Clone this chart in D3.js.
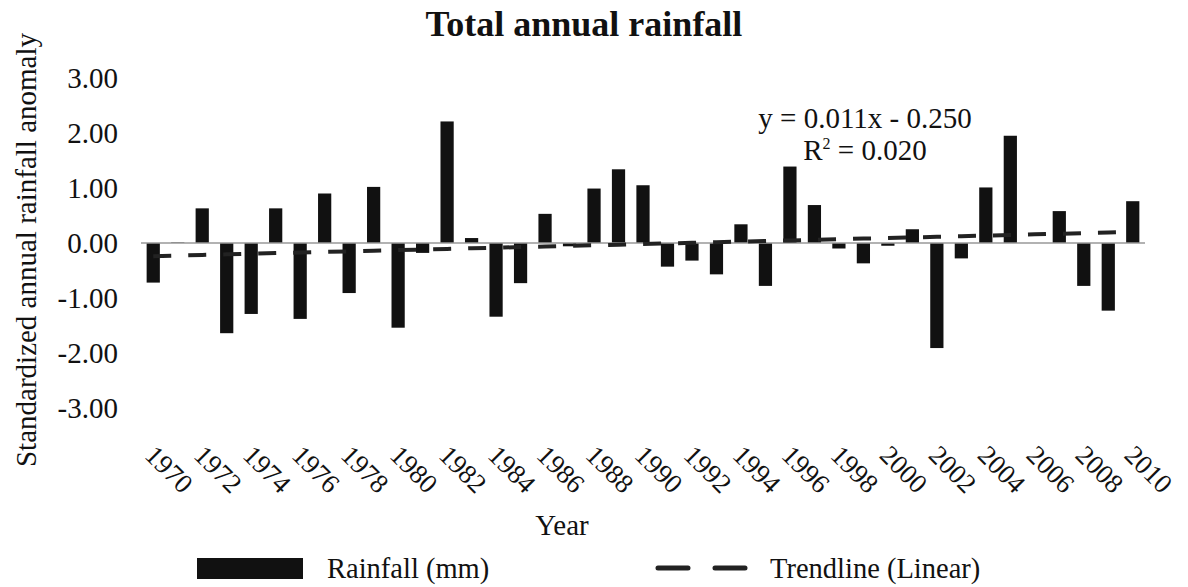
<!DOCTYPE html>
<html>
<head>
<meta charset="utf-8">
<script src="https://cdn.jsdelivr.net/npm/d3@7"></script>
<style>
  body { margin: 0; background: #fff; }
  svg text { font-family: "Liberation Serif", "Times New Roman", serif; fill: #111; }
</style>
</head>
<body>
<svg id="chart"></svg>
<script>
let w = 1188;
let h = 587;

// data
const years = d3.range(1970, 2011);
const rainfall = [
  -0.72, 0.01, 0.63, -1.64, -1.29, 0.63, -1.38, 0.90, -0.91, 1.02,
  -1.54, -0.18, 2.21, 0.09, -1.34, -0.73, 0.53, -0.06, 0.99, 1.34,
  1.05, -0.43, -0.32, -0.57, 0.34, -0.78, 1.39, 0.69, -0.10, -0.37,
  -0.05, 0.25, -1.91, -0.28, 1.01, 1.95, 0.00, 0.58, -0.78, -1.23,
  0.76
];
const yTicks = [3, 2, 1, 0, -1, -2, -3];
const xTickYears = years.filter(d => (d - 1970) % 2 === 0);
const trendSlope = 0.011;
const trendIntercept = -0.250;
const trendLabel = 'y = 0.011x - 0.250';
const r2Label = '= 0.020';

const chart = d3.select('#chart')
  .attr('width', w)
  .attr('height', h);

const xScale = d3.scaleBand()
  .domain(years)
  .range([141, 1145])
  .paddingInner(0.46)
  .paddingOuter(0.23);

const yScale = d3.scaleLinear()
  .domain([-3, 3])
  .range([408, 78]);

// title
chart.append('text')
  .attr('x', 584)
  .attr('y', 36)
  .attr('text-anchor', 'middle')
  .attr('font-size', 36)
  .attr('font-weight', 'bold')
  .text('Total annual rainfall');

// y axis (labels only)
const yAxis = d3.axisLeft(yScale)
  .tickValues(yTicks)
  .tickSize(0)
  .tickPadding(0)
  .tickFormat(d => d3.format('.2f')(d).replace('\u2212', '-'));

const yAxisGroup = chart.append('g')
  .attr('transform', 'translate(118,0)')
  .call(yAxis);
yAxisGroup.select('.domain').remove();
yAxisGroup.selectAll('text')
  .attr('font-family', '"Liberation Serif", serif')
  .attr('font-size', 29)
  .attr('fill', '#111');

chart.append('text')
  .attr('transform', 'translate(36,250) rotate(-90)')
  .attr('text-anchor', 'middle')
  .attr('font-size', 29)
  .text('Standardized annual rainfall anomaly');

// bars
chart.selectAll('rect.bar')
  .data(rainfall)
  .join('rect')
  .attr('class', 'bar')
  .attr('x', (d, i) => xScale(years[i]))
  .attr('width', xScale.bandwidth())
  .attr('y', d => yScale(Math.max(0, d)))
  .attr('height', d => Math.abs(yScale(d) - yScale(0)))
  .attr('fill', '#111');

// zero line
chart.append('line')
  .attr('x1', 141)
  .attr('x2', 1145)
  .attr('y1', yScale(0))
  .attr('y2', yScale(0))
  .attr('stroke', '#999')
  .attr('stroke-width', 1.5);

// linear trendline
const trendPts = years.map((yr, i) => [
  xScale(yr) + xScale.bandwidth() / 2,
  trendSlope * (i + 1) + trendIntercept
]);
chart.append('path')
  .datum(trendPts)
  .attr('d', d3.line().x(d => d[0]).y(d => yScale(d[1])))
  .attr('fill', 'none')
  .attr('stroke', '#222')
  .attr('stroke-width', 4)
  .attr('stroke-dasharray', '18,17');

// equation
chart.append('text')
  .attr('x', 865)
  .attr('y', 128)
  .attr('text-anchor', 'middle')
  .attr('font-size', 29)
  .text(trendLabel);

const r2 = chart.append('text')
  .attr('x', 865)
  .attr('y', 160)
  .attr('text-anchor', 'middle')
  .attr('font-size', 29);
r2.append('tspan').text('R');
r2.append('tspan').attr('font-size', 16).attr('dy', -11).text('2');
r2.append('tspan').attr('dy', 11).text(' ' + r2Label);

// x tick labels
chart.selectAll('text.xlab')
  .data(xTickYears)
  .join('text')
  .attr('class', 'xlab')
  .attr('transform', d => `translate(${xScale(d) + xScale.bandwidth() / 2 - 3},450) rotate(45)`)
  .attr('dy', '0.35em')
  .attr('font-size', 27)
  .text(d => d);

chart.append('text')
  .attr('x', 562)
  .attr('y', 535)
  .attr('text-anchor', 'middle')
  .attr('font-size', 29)
  .text('Year');

// legend
const legend = chart.append('g')
  .attr('font-size', 28.5);

legend.append('rect')
  .attr('x', 197)
  .attr('y', 558)
  .attr('width', 106)
  .attr('height', 21)
  .attr('fill', '#111');

legend.append('text')
  .attr('x', 327)
  .attr('y', 578)
  .text('Rainfall (mm)');

legend.append('line')
  .attr('x1', 658)
  .attr('x2', 748)
  .attr('y1', 568)
  .attr('y2', 568)
  .attr('stroke', '#222')
  .attr('stroke-width', 5)
  .attr('stroke-linecap', 'round')
  .attr('stroke-dasharray', '30,27');

legend.append('text')
  .attr('x', 770)
  .attr('y', 578)
  .text('Trendline (Linear)');
</script>
</body>
</html>
